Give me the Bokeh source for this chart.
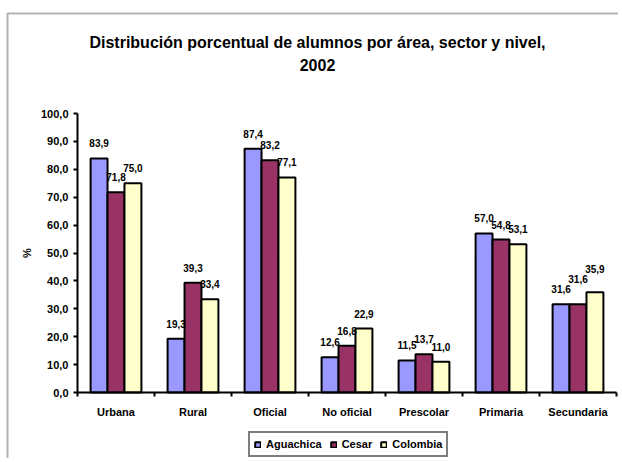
from bokeh.plotting import figure
from bokeh.models import (ColumnDataSource, LabelSet, Label, Legend, LegendItem,
                          FixedTicker, Range1d, BoxAnnotation)
from bokeh.core.properties import value
from bokeh.embed import file_html
from bokeh.resources import INLINE

# ---------------- data ----------------
categories = ["Urbana", "Rural", "Oficial", "No oficial", "Prescolar", "Primaria", "Secundaria"]
series_names = ["Aguachica", "Cesar", "Colombia"]
aguachica = [83.9, 19.3, 87.4, 12.6, 11.5, 57.0, 31.6]
cesar = [71.8, 39.3, 83.2, 16.8, 13.7, 54.8, 31.6]
colombia = [75.0, 33.4, 77.1, 22.9, 11.0, 53.1, 35.9]
y_ticks = [0, 10, 20, 30, 40, 50, 60, 70, 80, 90, 100]
y_tick_labels = ["0,0", "10,0", "20,0", "30,0", "40,0", "50,0", "60,0", "70,0", "80,0", "90,0", "100,0"]
title_line1 = "Distribución porcentual de alumnos por área, sector y nivel,"
title_line2 = "2002"
y_label = "%"
colors = ["#9999FF", "#993366", "#FFFFCC"]

FONT = "Liberation Sans"

# ---------------- layout (pixels on the canvas) ----------------
W, H = 618, 458
AX_LEFT, AX_RIGHT = 77, 616      # x-axis extent
AX_BOTTOM, AX_TOP = 392, 113     # y of value 0 and value 100
Y_MAX = 100.0
n_cat = len(categories)
px_x = (AX_RIGHT - AX_LEFT) / n_cat
px_y = (AX_BOTTOM - AX_TOP) / Y_MAX

x_range = Range1d(-AX_LEFT / px_x, n_cat + (W - AX_RIGHT) / px_x)
y_range = Range1d(-(H - AX_BOTTOM) / px_y, Y_MAX + AX_TOP / px_y)

p = figure(width=W, height=H, x_range=x_range, y_range=y_range,
           output_backend="svg", toolbar_location=None,
           min_border_left=0, min_border_right=0, min_border_top=0, min_border_bottom=0)
p.outline_line_color = None
p.xgrid.visible = False
p.ygrid.visible = False
p.background_fill_color = "white"
p.border_fill_color = "white"

series = [aguachica, cesar, colombia]
bar_w = 0.22
offsets = [-bar_w, 0.0, bar_w]
cat_x = [i + 0.5 for i in range(n_cat)]

renderers = []
for j, (name, vals) in enumerate(zip(series_names, series)):
    src = ColumnDataSource(dict(x=[c + offsets[j] for c in cat_x], top=vals))
    r = p.vbar(x="x", top="top", bottom=0, width=bar_w, source=src, fill_color=colors[j],
               line_color="black", line_width=2)
    renderers.append(r)

# data labels (with a simple collision push, like Excel does)
lab_x, lab_y, lab_t = [], [], []
for i in range(n_cat):
    prev = None
    for j, vals in enumerate(series):
        ly = vals[i] * px_y + 15
        if prev is not None and abs(ly - prev) < 4.5:
            ly = prev + 10
        prev = ly
        lab_x.append(cat_x[i] + offsets[j])
        lab_y.append(ly / px_y)
        lab_t.append(("%.1f" % vals[i]).replace(".", ","))

lsrc = ColumnDataSource(dict(x=lab_x, y=lab_y, t=lab_t))
p.add_layout(LabelSet(x="x", y="y", text="t", source=lsrc, text_align="center",
                      text_baseline="middle", text_font=value(FONT), text_font_style="bold",
                      text_font_size="10px", text_color="black"))

# axes (drawn at fixed locations inside the frame)
p.xaxis.fixed_location = 0
p.xaxis.bounds = (0, n_cat)
p.xaxis.ticker = FixedTicker(ticks=cat_x, minor_ticks=list(range(n_cat + 1)))
p.xaxis.major_label_overrides = {x: c for x, c in zip(cat_x, categories)}
p.xaxis.major_tick_line_color = None
p.xaxis.major_tick_out = 0
p.xaxis.major_tick_in = 0
p.xaxis.minor_tick_line_color = "black"
p.xaxis.minor_tick_line_width = 2
p.xaxis.minor_tick_out = 4
p.xaxis.minor_tick_in = 0
p.xaxis.major_label_standoff = 9

p.yaxis.fixed_location = 0
p.yaxis.bounds = (0, Y_MAX)
p.yaxis.ticker = FixedTicker(ticks=y_ticks)
p.yaxis.major_label_overrides = {t: s for t, s in zip(y_ticks, y_tick_labels)}
p.yaxis.major_tick_out = 4
p.yaxis.major_tick_in = 0
p.yaxis.major_tick_line_width = 2
p.yaxis.minor_tick_line_color = None
p.yaxis.major_label_standoff = 5
p.yaxis.axis_label = y_label
p.yaxis.axis_label_standoff = 5
p.yaxis.axis_label_text_font = FONT
p.yaxis.axis_label_text_font_style = "bold"
p.yaxis.axis_label_text_font_size = "11px"
p.yaxis.axis_label_text_color = "black"

for ax in (p.xaxis, p.yaxis):
    ax.axis_line_color = "black"
    ax.axis_line_width = 2
    ax.major_label_text_font = FONT
    ax.major_label_text_font_style = "bold"
    ax.major_label_text_font_size = "11px"
    ax.major_label_text_color = "black"

# chart-area border
p.add_layout(BoxAnnotation(left=7, right=W + 20, top=H - 13, bottom=-20,
                           left_units="screen", right_units="screen",
                           top_units="screen", bottom_units="screen",
                           fill_color=None, fill_alpha=0, line_color="black", line_width=2))

# title
p.add_layout(Label(x=317, y=H - 42, x_units="screen", y_units="screen", text=title_line1,
                   text_align="center", text_baseline="middle", text_font=FONT,
                   text_font_style="bold", text_font_size="16px", text_color="black"))
p.add_layout(Label(x=317, y=H - 64, x_units="screen", y_units="screen", text=title_line2,
                   text_align="center", text_baseline="middle", text_font=FONT,
                   text_font_style="bold", text_font_size="16px", text_color="black"))

# legend
legend = Legend(items=[LegendItem(label=n, renderers=[r]) for n, r in zip(series_names, renderers)],
                orientation="horizontal", location=(248, 1),
                glyph_width=7, glyph_height=7, label_standoff=5, spacing=8,
                padding=4, label_height=14, margin=0,
                border_line_color="black", border_line_width=2,
                label_text_font=FONT, label_text_font_style="bold",
                label_text_font_size="11px", label_text_color="black",
                background_fill_color="white", background_fill_alpha=1)
p.add_layout(legend)

open("out.html", "w").write(file_html(p, INLINE))
